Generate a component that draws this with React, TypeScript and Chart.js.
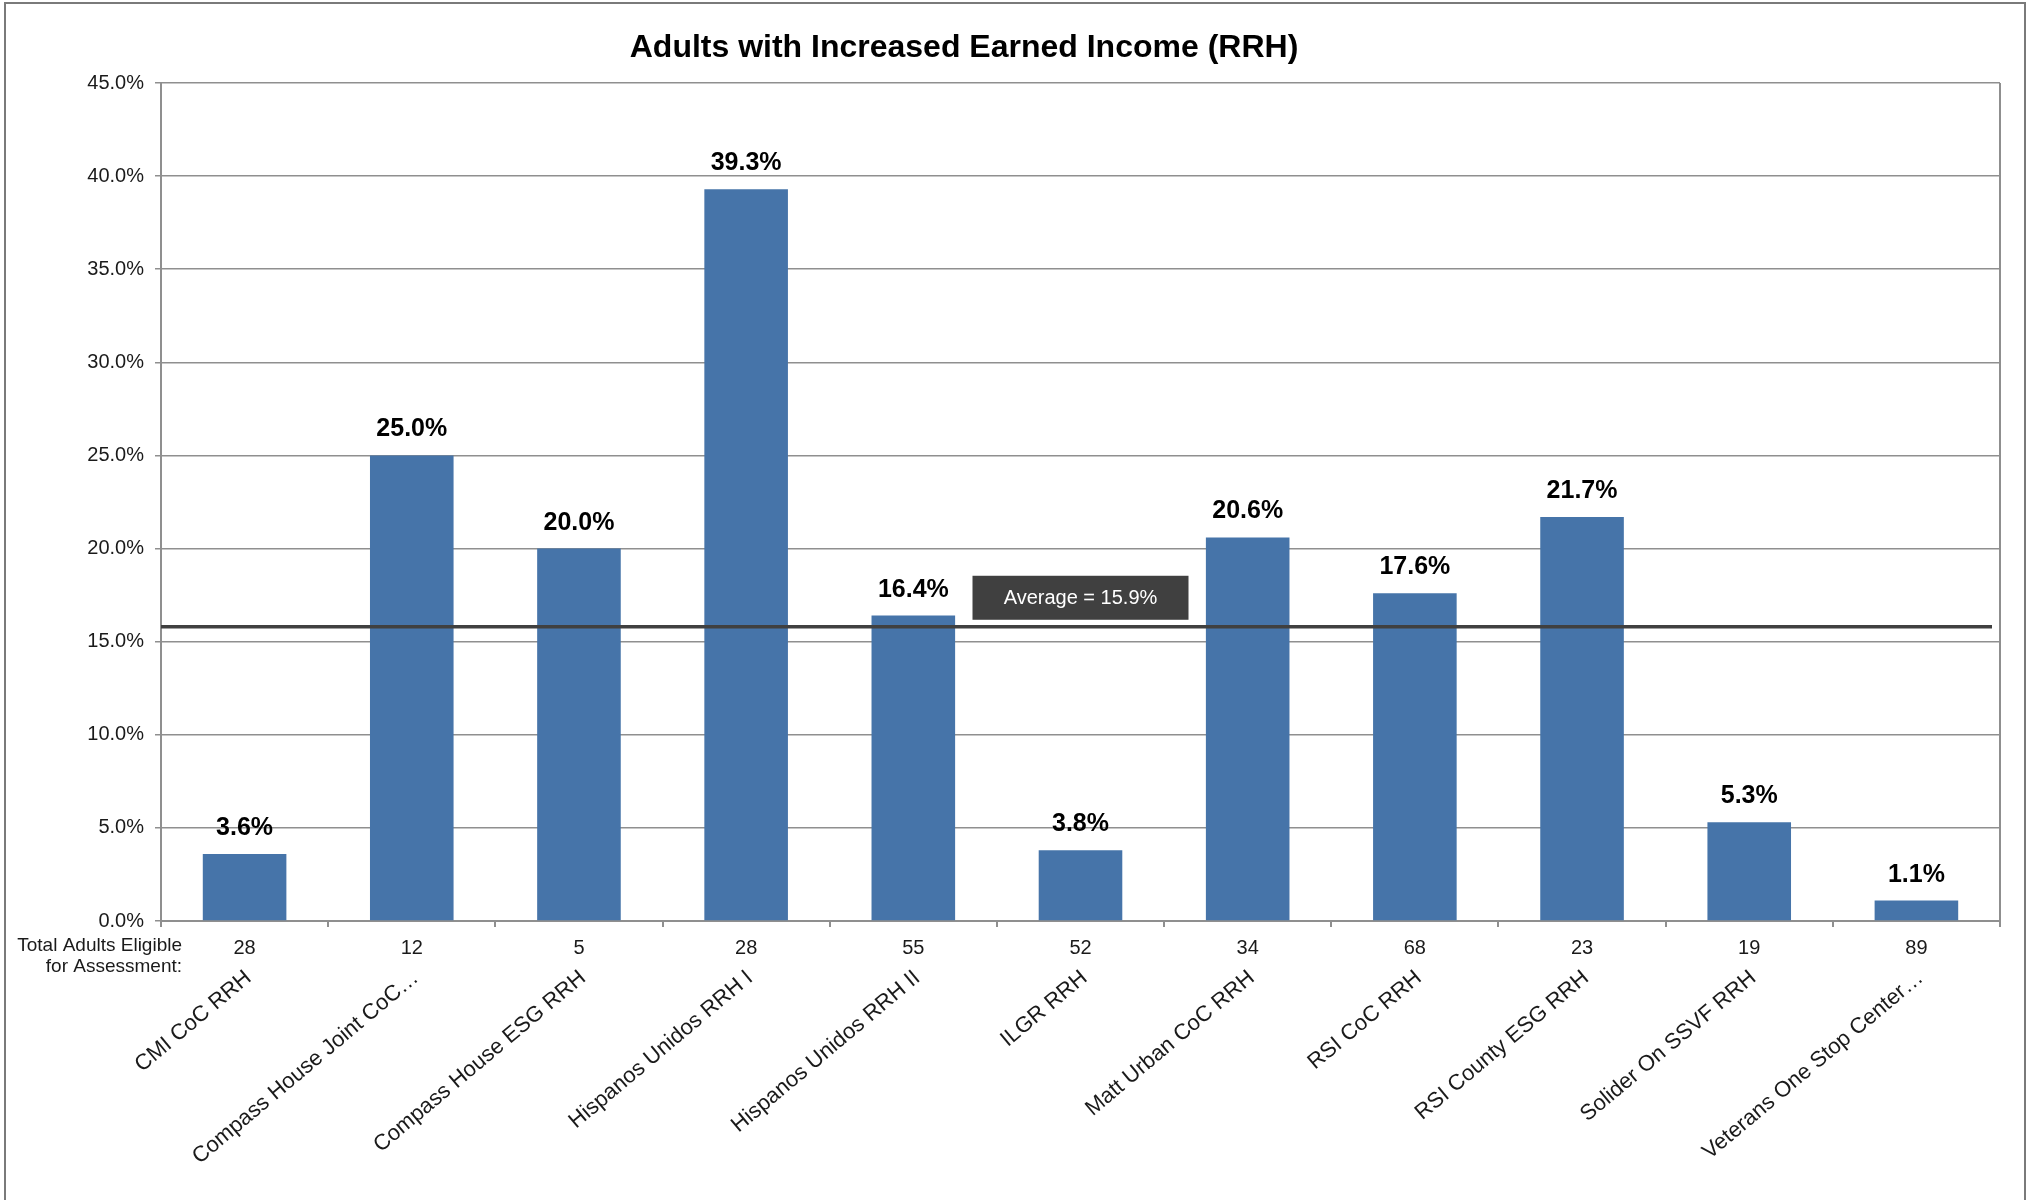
import React, { useEffect, useRef } from 'react';
import { Chart, registerables } from 'chart.js';

Chart.register(...registerables);

// ---------- data ----------
const TITLE = 'Adults with Increased Earned Income (RRH)';
const programs = [
  'CMI CoC RRH',
  'Compass House Joint CoC…',
  'Compass House ESG RRH',
  'Hispanos Unidos RRH I',
  'Hispanos Unidos RRH II',
  'ILGR RRH',
  'Matt Urban CoC RRH',
  'RSI CoC RRH',
  'RSI County ESG RRH',
  'Solider On SSVF RRH',
  'Veterans One Stop Center…',
];
const percentIncreased = [3.6, 25.0, 20.0, 39.3, 16.4, 3.8, 20.6, 17.6, 21.7, 5.3, 1.1];
const adultsEligible = [28, 12, 5, 28, 55, 52, 34, 68, 23, 19, 89];
const averageValue = 15.8;
const averageLabel = 'Average = 15.9%';
const eligibleCaption = ['Total Adults Eligible', 'for Assessment:'];
const yTicks = { min: 0, max: 45, step: 5 };

// ---------- styles ----------
const FONT = "'Liberation Sans', Arial, sans-serif";
const BAR_COLOR = '#4674A9';
const GRID_COLOR = '#8f8f8f';
const TEXT_COLOR = '#1a1a1a';
const AVG_COLOR = '#404040';

const decorPlugin = {
  id: 'decor',
  beforeDraw(chart: any) {
    const { ctx, width, height } = chart;
    ctx.save();
    ctx.fillStyle = '#ffffff';
    ctx.fillRect(0, 0, width, height);
    ctx.restore();
  },
  afterDatasetsDraw(chart: any) {
    const { ctx, chartArea, scales } = chart;
    const y = scales.y;
    ctx.save();
    // right border of plot area
    ctx.strokeStyle = GRID_COLOR;
    ctx.lineWidth = 2;
    ctx.beginPath();
    ctx.moveTo(chartArea.right, chartArea.top);
    ctx.lineTo(chartArea.right, chartArea.bottom);
    ctx.stroke();

    // average line
    const ay = y.getPixelForValue(averageValue);
    ctx.strokeStyle = AVG_COLOR;
    ctx.lineWidth = 3.5;
    ctx.beginPath();
    ctx.moveTo(chartArea.left, ay);
    ctx.lineTo(chartArea.right - 8, ay);
    ctx.stroke();

    // average box
    const cx = (chartArea.left + chartArea.right) / 2;
    const bw = 216;
    const bh = 44;
    ctx.fillStyle = AVG_COLOR;
    ctx.fillRect(cx - bw / 2, ay - 7 - bh, bw, bh);
    ctx.fillStyle = '#ffffff';
    ctx.font = `20px ${FONT}`;
    ctx.textAlign = 'center';
    ctx.textBaseline = 'middle';
    ctx.fillText(averageLabel, cx, ay - 7 - bh / 2 + 1);

    // data labels
    const meta = chart.getDatasetMeta(0);
    ctx.fillStyle = '#000000';
    ctx.font = `bold 25px ${FONT}`;
    ctx.textAlign = 'center';
    ctx.textBaseline = 'alphabetic';
    meta.data.forEach((el: any, i: number) => {
      ctx.fillText(percentIncreased[i].toFixed(1) + '%', el.x, el.y - 19);
    });
    ctx.restore();
  },
  afterDraw(chart: any) {
    const { ctx } = chart;
    ctx.save();
    // title
    ctx.fillStyle = '#000000';
    ctx.font = `bold 32px ${FONT}`;
    ctx.textAlign = 'center';
    ctx.textBaseline = 'alphabetic';
    ctx.fillText(TITLE, 964, 57);

    // caption for counts row
    ctx.fillStyle = TEXT_COLOR;
    ctx.font = `19px ${FONT}`;
    ctx.textAlign = 'right';
    ctx.fillText(eligibleCaption[0], 182, 951);
    ctx.fillText(eligibleCaption[1], 182, 972);

    // outer border
    ctx.strokeStyle = '#7a7a7a';
    ctx.lineWidth = 2;
    ctx.strokeRect(5, 3, 2020, 1300);
    ctx.restore();
  },
};

export default function App() {
  const ref = useRef<HTMLCanvasElement | null>(null);

  useEffect(() => {
    if (!ref.current) return;
    Chart.defaults.font.family = FONT;
    const chart = new Chart(ref.current, {
      type: 'bar',
      data: {
        labels: programs,
        datasets: [
          {
            data: percentIncreased,
            backgroundColor: BAR_COLOR,
            borderWidth: 0,
            barPercentage: 1,
            categoryPercentage: 0.5,
            xAxisID: 'x',
            yAxisID: 'y',
          },
        ],
      },
      options: {
        responsive: false,
        animation: false,
        devicePixelRatio: 1,
        layout: { padding: { top: 83, left: 0, right: 28, bottom: 0 } },
        plugins: {
          legend: { display: false },
          tooltip: { enabled: false },
          title: { display: false },
        },
        scales: {
          y: {
            min: yTicks.min,
            max: yTicks.max,
            ticks: {
              stepSize: yTicks.step,
              callback: (v: any) => Number(v).toFixed(1) + '%',
              padding: 11,
              font: { size: 20, family: FONT },
              color: TEXT_COLOR,
            },
            grid: { color: GRID_COLOR, lineWidth: 1.5, tickLength: 6, drawTicks: true },
            border: { color: GRID_COLOR, width: 2 },
            afterFit: (s: any) => {
              s.width = 161;
            },
          },
          x: {
            position: 'bottom',
            weight: 0,
            grid: {
              display: true,
              drawOnChartArea: false,
              drawTicks: true,
              tickLength: 6,
              color: GRID_COLOR,
              lineWidth: 2,
              offset: true,
            },
            border: { color: GRID_COLOR, width: 2 },
            ticks: {
              callback: (_v: any, i: number) => String(adultsEligible[i]),
              maxRotation: 0,
              minRotation: 0,
              autoSkip: false,
              padding: 9,
              font: { size: 20, family: FONT },
              color: TEXT_COLOR,
            },
            afterFit: (s: any) => {
              s.height = 38;
            },
          },
          x2: {
            type: 'category',
            labels: programs,
            position: 'bottom',
            weight: 1,
            offset: true,
            grid: { display: false, drawTicks: false },
            border: { display: false },
            ticks: {
              minRotation: 40,
              maxRotation: 40,
              autoSkip: false,
              padding: 6,
              labelOffset: 4,
              font: { size: 22, family: FONT },
              color: TEXT_COLOR,
            },
            afterFit: (s: any) => {
              s.height = 241;
            },
          },
        },
      } as any,
      plugins: [decorPlugin],
    });
    return () => chart.destroy();
  }, []);

  return (
    <div style={{ position: 'absolute', left: 0, top: 0, width: 2028, height: 1200, background: '#fff' }}>
      <canvas ref={ref} width={2028} height={1200} style={{ display: 'block', width: 2028, height: 1200 }} />
    </div>
  );
}
